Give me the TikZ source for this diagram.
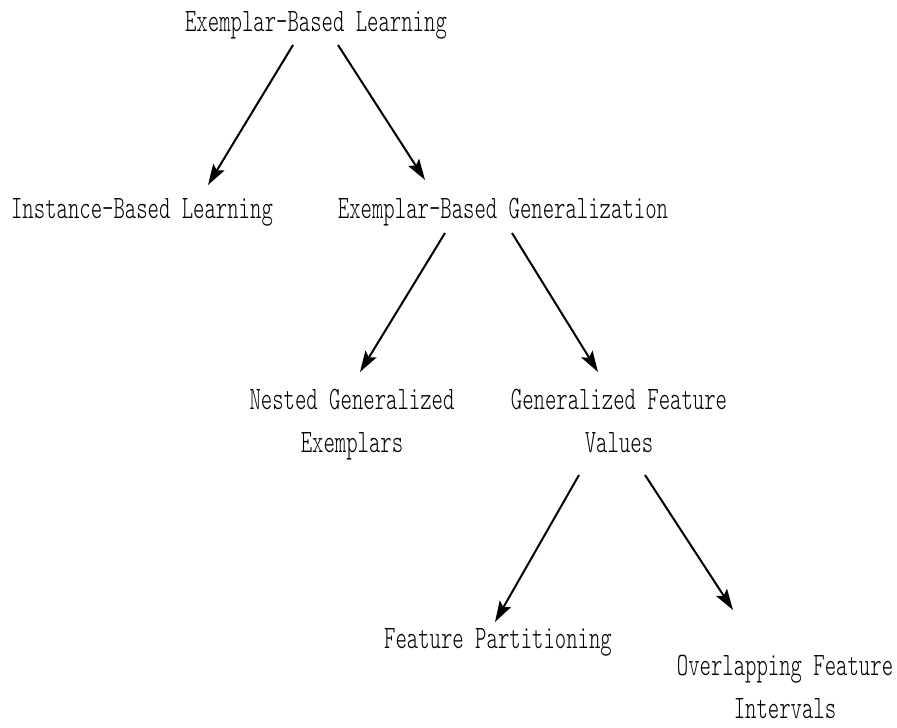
\documentclass[tikz,border=0pt]{standalone}
\usepackage{fontspec}
\newfontfamily\cond{lmmonolt10-regular.otf}[FakeStretch=0.663]
\usetikzlibrary{arrows.meta}
\begin{document}
\begin{tikzpicture}[x=1pt,y=-1pt,
  lbl/.style={anchor=base,inner sep=0pt,align=center,font=\cond\fontsize{32.7}{43}\selectfont},
  arr/.style={line width=2pt,-{Stealth[length=21pt,width=13pt,inset=4pt]}}]
\useasboundingbox (0,0) rectangle (897,728);
\node[lbl] (ebl) at (316,31) {Exemplar-Based Learning};
\node[lbl] (ibl) at (142,218) {Instance-Based Learning};
\node[lbl] (ebg) at (503,218) {Exemplar-Based Generalization};
\node[lbl] (nge) at (352,452) {Nested Generalized\\Exemplars};
\node[lbl] (gfv) at (619,452) {Generalized Feature\\Values};
\node[lbl] (fp) at (498,648) {Feature Partitioning};
\node[lbl] (ofi) at (785,718) {Overlapping Feature\\Intervals};
\draw[arr] ([shift={(-23,14)}]ebl.base) -- ([shift={(66,-33)}]ibl.base);
\draw[arr] ([shift={(22,14)}]ebl.base) -- ([shift={(-78,-38)}]ebg.base);
\draw[arr] ([shift={(-58,15)}]ebg.base) -- ([shift={(8,-80)}]nge.base);
\draw[arr] ([shift={(9,15)}]ebg.base) -- ([shift={(-21,-80)}]gfv.base);
\draw[arr] ([shift={(-40,23)}]gfv.base) -- ([shift={(-3,-26)}]fp.base);
\draw[arr] ([shift={(26,23)}]gfv.base) -- ([shift={(-52,-108)}]ofi.base);
\end{tikzpicture}
\end{document}
